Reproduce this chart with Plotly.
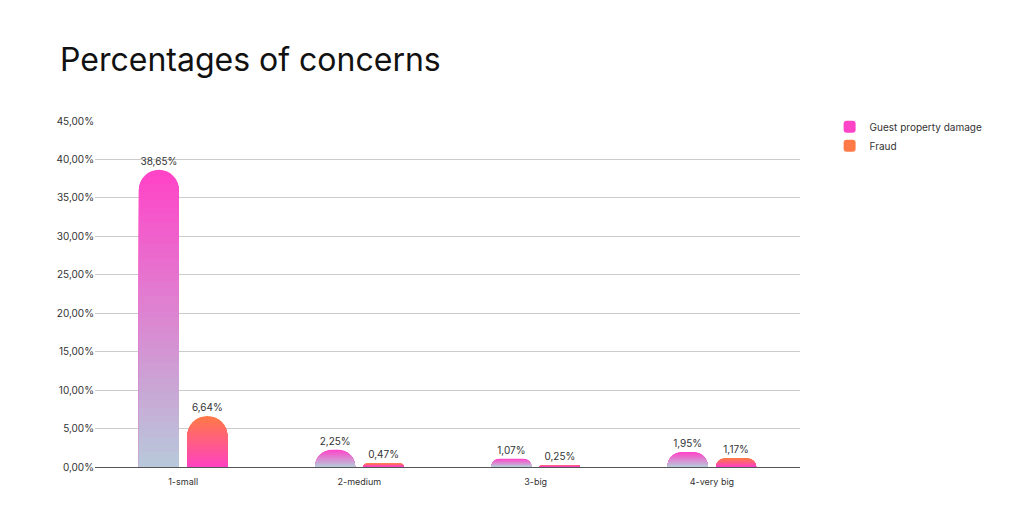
import plotly.graph_objects as go

# ---- data ----
categories = ["1-small", "2-medium", "3-big", "4-very big"]
guest_property_damage = [38.65, 2.25, 1.07, 1.95]
fraud = [6.64, 0.47, 0.25, 1.17]
y_tick_values = [0, 5, 10, 15, 20, 25, 30, 35, 40, 45]
y_tick_labels = ["0,00%", "5,00%", "10,00%", "15,00%", "20,00%",
                 "25,00%", "30,00%", "35,00%", "40,00%", "45,00%"]

# ---- styles ----
series = [
    dict(name="Guest property damage", values=guest_property_damage,
         top=(255, 68, 200), bottom=(184, 200, 218), offset=-0.251),
    dict(name="Fraud", values=fraud,
         top=(255, 122, 70), bottom=(255, 66, 192), offset=0.024),
]
N_LAYERS = 40
BAR_W = 0.227
FONT = "Inter"


def mix(c1, c2, t):
    return "rgb({},{},{})".format(*[round(a + (b - a) * t) for a, b in zip(c1, c2)])


def fmt(v):
    return f"{v:.2f}".replace(".", ",") + "%"


fig = go.Figure()
for s in series:
    for k in range(N_LAYERS):
        frac = (N_LAYERS - k) / N_LAYERS
        t = k / (N_LAYERS - 1)
        top_layer = k == 0
        fig.add_trace(go.Bar(
            x=categories,
            y=[v * frac for v in s["values"]],
            name=s["name"],
            legendgroup=s["name"],
            showlegend=top_layer,
            width=BAR_W,
            offset=s["offset"],
            marker=dict(color=mix(s["top"], s["bottom"], t), cornerradius="50%",
                        line=dict(width=0)),
            text=[fmt(v) for v in s["values"]] if top_layer else None,
            textposition="outside" if top_layer else "none",
            textfont=dict(family=FONT, size=10, color="#333333"),
            cliponaxis=False,
            hoverinfo="skip" if not top_layer else None,
        ))

fig.update_layout(
    width=1024, height=514,
    barmode="overlay",
    paper_bgcolor="white", plot_bgcolor="white",
    separators=",.",
    margin=dict(l=95, r=224, t=121, b=47),
    font=dict(family=FONT, size=10, color="#333333"),
    title=dict(text="Percentages of concerns", x=60 / 1024, xanchor="left",
               xref="container", y=1 - 49 / 514, yanchor="top", yref="container",
               font=dict(family=FONT, size=32, color="#111111")),
    legend=dict(x=1.042, xanchor="left", y=1.025, yanchor="top",
                font=dict(family=FONT, size=10, color="#333333"),
                itemclick=False, tracegroupgap=0),
    xaxis=dict(type="category", range=[-0.5, 3.5], showgrid=False,
               showline=True, linecolor="#555555", linewidth=1, ticks="",
               ticklabelstandoff=6,
               tickfont=dict(family=FONT, size=9, color="#333333")),
    yaxis=dict(range=[0, 45], tickvals=y_tick_values, ticktext=y_tick_labels,
               showgrid=True, gridcolor="#cccccc", gridwidth=1,
               zeroline=False, showline=False,
               tickfont=dict(family=FONT, size=10, color="#333333")),
)

fig.write_html("out.html", config={"displayModeBar": False},
               post_script="document.body.style.margin='0';")
